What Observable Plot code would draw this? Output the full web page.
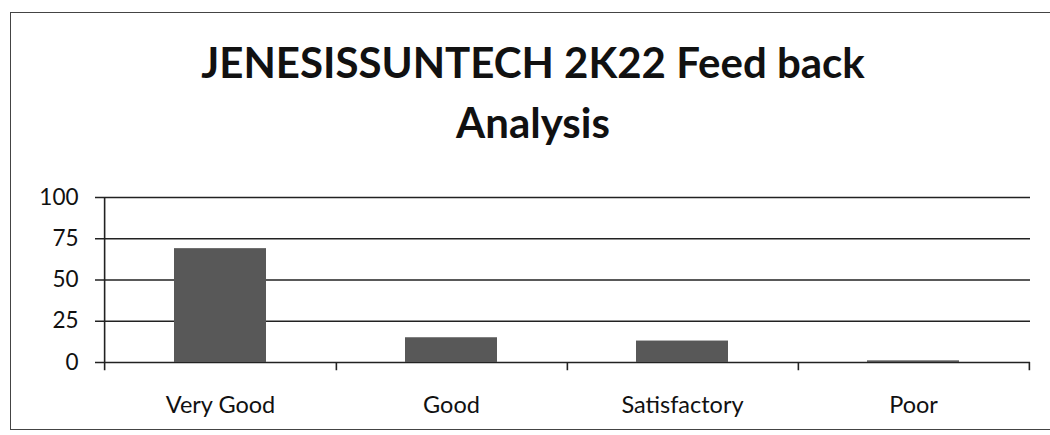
<!DOCTYPE html>
<html>
<head>
<meta charset="utf-8">
<script src="https://cdn.jsdelivr.net/npm/d3@7"></script>
<script src="https://cdn.jsdelivr.net/npm/@observablehq/plot@0.6"></script>
<style>
  html, body { margin: 0; padding: 0; background: #fff; width: 1050px; height: 435px; overflow: hidden; }
  #frame { position: absolute; left: 10px; top: 12px; width: 1100px; height: 418px; border: 1.5px solid #444; box-sizing: border-box; }
  #title { position: absolute; left: 0; top: 32px; width: 1066px; text-align: center; font-family: Lato, sans-serif; font-weight: bold; font-size: 42px; line-height: 60px; color: #111; }
  #chart { position: absolute; left: 0; top: 170px; }
</style>
</head>
<body>
<div id="frame"></div>
<div id="title">JENESISSUNTECH 2K22 Feed back<br>Analysis</div>
<div id="chart"></div>
<script>
const categories = ["Very Good", "Good", "Satisfactory", "Poor"];
const values = [69, 15, 13, 1];
const yTicks = [0, 25, 50, 75, 100];

const data = categories.map((c, i) => ({category: c, value: values[i]}));

const W = 1050, H = 265, mL = 103, mR = 20, mT = 27, mB = 73;
const step = (W - mL - mR) / categories.length;
const tickDrop = -5;

const chart = Plot.plot({
  width: W,
  height: H,
  marginLeft: mL,
  marginRight: mR,
  marginTop: mT,
  marginBottom: mB,
  style: {fontFamily: "Lato, sans-serif", fontSize: "23px", color: "#111", background: "transparent"},
  x: {domain: categories, paddingInner: 0.6, paddingOuter: 0.3, label: null},
  y: {domain: [0, 100], label: null},
  marks: [
    Plot.ruleY(yTicks, {stroke: "#222", strokeWidth: 1.6, insetLeft: -8}),
    Plot.rectY(data, {x: "category", y: "value", fill: "#585858"}),
    Plot.ruleX([categories[0]], {dx: -step / 2, y1: tickDrop, y2: 100, stroke: "#222", strokeWidth: 1.6}),
    Plot.ruleX(categories, {dx: step / 2, y1: tickDrop, y2: 0, stroke: "#222", strokeWidth: 1.6}),
    Plot.axisY({ticks: yTicks, tickSize: 0, tickPadding: 25, fontSize: 22.5, label: null}),
    Plot.axisX({tickSize: 0, tickPadding: 34, fontSize: 23.5, label: null})
  ]
});
document.getElementById("chart").appendChild(chart);
</script>
</body>
</html>
